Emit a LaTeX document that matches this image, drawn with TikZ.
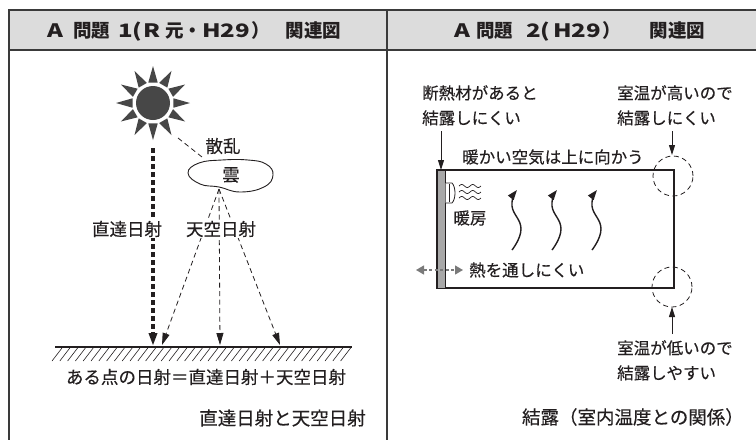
\documentclass[tikz,border=0pt]{standalone}
\usepackage{graphicx}
\usepackage{fontspec}
\newfontfamily\jp{Noto Sans CJK JP}[FakeBold=0.35]
\newfontfamily\jphead{Noto Sans CJK JP}
\usetikzlibrary{arrows.meta,calc}
\definecolor{ink}{HTML}{231F20}
\definecolor{framecol}{HTML}{3A3A3A}
\definecolor{headfill}{HTML}{DCDCDC}
\definecolor{sungray}{HTML}{474747}
\definecolor{wallgray}{HTML}{A8A8A8}
\definecolor{heatgray}{HTML}{7A7A7A}
% broad Latin letters in the headings
\newcommand\wl[1]{\scalebox{1.3}[1]{#1}}

\begin{document}
\begin{tikzpicture}[x=1pt,y=-1pt,
  txt/.style={font=\jp\fontsize{17.5}{25}\selectfont, text=ink, inner sep=1pt},
  rtxt/.style={font=\jp\fontsize{16.5}{25}\selectfont, text=ink, inner sep=0pt, align=left},
  captxt/.style={font=\jp\fontsize{18.5}{22}\selectfont, text=ink, inner sep=0pt},
  headtxt/.style={font=\jphead\bfseries\fontsize{18.5}{22}\selectfont, text=ink, inner sep=0pt},
  framel/.style={draw=framecol, line width=1.5pt},
  directray/.style={draw=ink, line width=3.5pt, dash pattern=on 5pt off 3pt, -{Triangle[length=13pt,width=8pt]}},
  diffray/.style={draw=ink, line width=0.8pt, dash pattern=on 5pt off 3.5pt, -{Triangle[length=12pt,width=7pt]}},
  thinarrow/.style={draw=ink, line width=0.9pt, -{Triangle[length=10pt,width=6pt]}},
  ringdash/.style={draw=ink, line width=0.8pt, dash pattern=on 5pt off 3.5pt},
  warmflow/.style={draw=ink, line width=1.4pt, -{Triangle[length=10pt,width=7pt]}},
]
\useasboundingbox (0,0) rectangle (756,440);

% ---------- table frame and header band ----------
\fill[headfill] (9,10) rectangle (756,50);
\draw[framel] (756,10) -- (9,10) -- (9,440);
\draw[framel] (9,50) -- (756,50);
\draw[framel] (387,10) -- (387,440);
\node[headtxt, anchor=west] (headA) at (47,31)
  {\wl{A}\hspace{10pt}問題\hspace{8pt}\wl{1(}\hspace{1pt}\wl{R}\hspace{5pt}元・\wl{H29}\hspace{1pt}）\hspace{16pt}関連図};
\node[headtxt, anchor=west] (headB) at (454,31)
  {\wl{A}\hspace{6pt}問題\hspace{13pt}\wl{2(}\hspace{3pt}\wl{H29}\hspace{1pt}）\hspace{29pt}関連図};

% ---------- left panel: direct and diffuse radiation ----------
% sun
\coordinate (sun) at (153,103);
\fill[sungray] (sun) circle (17pt);
\foreach \a in {0,30,...,330}
  \fill[sungray] ($(sun)+(\a-13:21)$) -- ($(sun)+(\a:37)$) -- ($(sun)+(\a+13:21)$) -- cycle;

% cloud
\draw[draw=ink, line width=0.9pt, fill=white] plot[smooth cycle, tension=0.75] coordinates {
  (188,173) (199,163) (222,160) (248,160) (266,164) (273,175)
  (264,187) (240,192) (219,187) (200,184) };
\node[txt] (cloud) at (231,175) {雲};
\node[txt] (scatter) at (223,146) {散乱};
\coordinate (scatA) at (178,138);
\coordinate (scatB) at (202,157);
\draw[ringdash] (scatA) -- (scatB);

% ground with hatching
\coordinate (gl) at (55,347);
\coordinate (gr) at (352,347);
\foreach \h in {0,...,37}
  \draw[draw=ink, line width=0.6pt] ({62+7.8*\h},348) -- ++(-10,13);
\draw[draw=ink, line width=1.5pt] (gl) -- (gr);

% direct beam
\coordinate (dirstart) at (153,148);
\coordinate (hitA) at (153,346);
\draw[directray] (dirstart) -- (hitA);

% diffuse rays from the cloud
\coordinate (skysrc) at (219,189);
\coordinate (hitB) at (162,345);
\coordinate (hitC) at (220,345);
\coordinate (hitD) at (280,345);
\draw[diffray] (skysrc) -- (hitB);
\draw[diffray] (skysrc) -- (hitC);
\draw[diffray] (skysrc) -- (hitD);

\node[txt, fill=white] (dirlab) at (127,229) {直達日射};
\node[txt, fill=white] (skylab) at (221,229) {天空日射};

\node[txt] (sumlab) at (206,377) {ある点の日射＝直達日射＋天空日射};
\node[captxt, anchor=east] (capA) at (366,418) {直達日射と天空日射};

% ---------- right panel: condensation and room temperature ----------
% room
\draw[draw=ink, line width=1.5pt] (437,170) rectangle (674,288);
\filldraw[fill=wallgray, draw=ink, line width=1pt] (437,170) rectangle (445,288);

% heater unit with warm air
\draw[draw=ink, line width=0.8pt, fill=white] (445.5,183) -- (452,183)
  .. controls (456,187) and (456,199) .. (452,203) -- (445.5,203);
\draw[draw=ink, line width=0.8pt] (449,184) -- (449,202);
\foreach \yy in {186,192,198}
  \draw[draw=ink, line width=0.7pt] plot[domain=0:22, samples=40, smooth]
    ({459+\x},{\yy - 1.5*sin(\x*360/11)});
\node[rtxt] (heater) at (470,218) {暖房};

% rising warm air
\foreach \ax in {517,557,597}
  \draw[warmflow] plot[smooth, tension=0.8] coordinates
    {(\ax-5,250) (\ax+4,229) (\ax-5,206) (\ax,190)};
\node[rtxt, anchor=west] (warmlab) at (462,157) {暖かい空気は上に向かう};

% heat through the wall
\coordinate (heatL) at (416,270);
\coordinate (heatR) at (463,270);
\draw[draw=heatgray, line width=1.3pt, dash pattern=on 3pt off 2.5pt,
  {Triangle[length=8pt,width=9pt]}-{Triangle[length=8pt,width=9pt]}] (heatL) -- (heatR);
\node[rtxt, anchor=west] (heatlab) at (469,270) {熱を通しにくい};

% insulation note
\node[rtxt, anchor=north west] (insul) at (422,85) {断熱材があると\\結露しにくい};
\coordinate (insA) at (441,131);
\coordinate (insB) at (441,170);
\draw[thinarrow] (insA) -- (insB);

% warm corner
\node[rtxt, anchor=north west] (highT) at (617,85) {室温が高いので\\結露しにくい};
\draw[ringdash] (673,176) circle (20pt);
\coordinate (hiA) at (672,131);
\coordinate (hiB) at (672,155);
\draw[thinarrow] (hiA) -- (hiB);

% cold corner
\draw[ringdash] (672,287) circle (20pt);
\coordinate (loA) at (672,334);
\coordinate (loB) at (672,307);
\draw[thinarrow] (loA) -- (loB);
\node[rtxt, anchor=north west] (lowT) at (617,340) {室温が低いので\\結露しやすい};

\node[captxt, anchor=east] (capB) at (744,417) {結露（室内温度との関係）};
\end{tikzpicture}
\end{document}
